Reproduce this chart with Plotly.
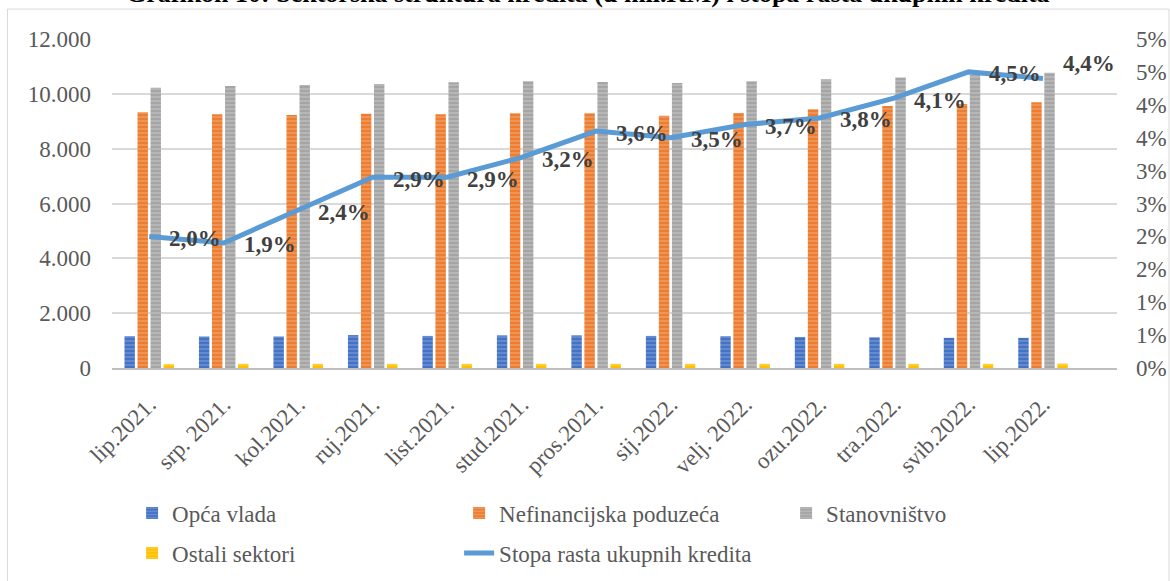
import math
import plotly.graph_objects as go

categories = ["lip.2021.", "srp. 2021.", "kol.2021.", "ruj.2021.", "list.2021.", "stud.2021.",
              "pros.2021.", "sij.2022.", "velj. 2022.", "ozu.2022.", "tra.2022.", "svib.2022.", "lip.2022."]
opca_vlada = [1160, 1150, 1150, 1200, 1170, 1190, 1190, 1170, 1160, 1130, 1120, 1100, 1100]
nefinancijska = [9326, 9253, 9228, 9277, 9253, 9290, 9290, 9204, 9300, 9435, 9556, 9630, 9690]
stanovnistvo = [10224, 10286, 10322, 10359, 10420, 10456, 10432, 10395, 10456, 10530, 10600, 10700, 10770]
ostali = [140, 150, 150, 150, 150, 150, 150, 150, 150, 150, 150, 150, 160]
stopa_rasta = [2.0, 1.9, 2.4, 2.9, 2.9, 3.2, 3.6, 3.5, 3.7, 3.8, 4.1, 4.5, 4.4]

left_ticks = [0, 2000, 4000, 6000, 8000, 10000, 12000]
right_ticks = [0, 0.5, 1, 1.5, 2, 2.5, 3, 3.5, 4, 4.5, 5]

FONT = "Liberation Serif, Times New Roman, serif"
TXT = "#595959"

fig = go.Figure()

bar_series = [
    ("Opća vlada", opca_vlada, "#4472C4", "#9DB5E3", "legend"),
    ("Nefinancijska poduzeća", nefinancijska, "#ED7D31", "#F7BE98", "legend"),
    ("Stanovništvo", stanovnistvo, "#A5A5A5", "#D6D6D6", "legend"),
    ("Ostali sektori", ostali, "#FFC000", "#FFE080", "legend2"),
]
for name, vals, col, fg, lg in bar_series:
    fig.add_trace(go.Bar(
        x=categories, y=vals, name=name, legend=lg,
        marker=dict(color=col, line=dict(width=0),
                    pattern=dict(shape="-", fillmode="overlay", fgcolor=fg, size=4, solidity=0.35)),
    ))

fig.add_trace(go.Scatter(
    x=categories, y=stopa_rasta, name="Stopa rasta ukupnih kredita", yaxis="y2", legend="legend2",
    mode="lines", line=dict(color="#5B9BD5", width=5),
))

for i, (c, v) in enumerate(zip(categories, stopa_rasta)):
    fig.add_annotation(
        x=c, y=v, yref="y2", xanchor="left", yanchor="middle",
        xshift=18, yshift=(15 if i == len(categories) - 1 else -2),
        text=f"{v:.1f}".replace(".", ",") + "%", showarrow=False,
        font=dict(family=FONT, size=23, color="#404040", weight="bold"),
    )

fig.add_annotation(
    text="Grafikon 10: Sektorska struktura kredita (u mil.KM) i stopa rasta ukupnih kredita",
    xref="paper", yref="paper", x=0.4736, y=1.138, xanchor="center", yanchor="middle",
    showarrow=False, font=dict(family=FONT, size=26, color="#000000", weight="bold"),
)

fig.add_shape(type="rect", xref="paper", yref="paper",
              x0=-0.104, x1=1.0517, y0=-0.66, y1=1.091,
              line=dict(color="#D9D9D9", width=1), fillcolor="rgba(0,0,0,0)", layer="below")

legend_common = dict(orientation="h", xanchor="left", yanchor="middle", yref="container",
                     entrywidth=282, entrywidthmode="pixels", traceorder="normal",
                     bgcolor="rgba(0,0,0,0)",
                     font=dict(family=FONT, size=23, color=TXT))

fig.update_layout(
    width=1170, height=581,
    margin=dict(l=112, r=53, t=39, b=213, autoexpand=False),
    paper_bgcolor="white", plot_bgcolor="white",
    separators=",.",
    barmode="group", bargap=0.3, bargroupgap=0.2,
    font=dict(family=FONT, size=20, color=TXT),
    showlegend=True,
    xaxis=dict(showline=True, linecolor="#BFBFBF", linewidth=2, tickangle=-45, automargin=False,
               tickfont=dict(family=FONT, size=23, color=TXT), showgrid=False, ticks="",
               ticklabelstandoff=12),
    yaxis=dict(range=[0, 12000], tickvals=left_ticks, tickformat=",d", automargin=False,
               showgrid=True, gridcolor="#D9D9D9", gridwidth=1.5, zeroline=False,
               tickfont=dict(family=FONT, size=23, color=TXT), ticklabelstandoff=20),
    yaxis2=dict(range=[0, 5], overlaying="y", side="right", tickvals=right_ticks, automargin=False,
                ticktext=[f"{math.floor(t + 0.5)}%" for t in right_ticks],
                showgrid=False, zeroline=False,
                tickfont=dict(family=FONT, size=23, color=TXT), ticklabelstandoff=18),
    legend=dict(x=0.02, y=1 - 513 / 581, **legend_common),
    legend2=dict(x=0.02, y=1 - 553 / 581, **legend_common),
)

fig.write_html("out.html", config={"displayModeBar": False},
               post_script="document.body.style.margin='0px';")
